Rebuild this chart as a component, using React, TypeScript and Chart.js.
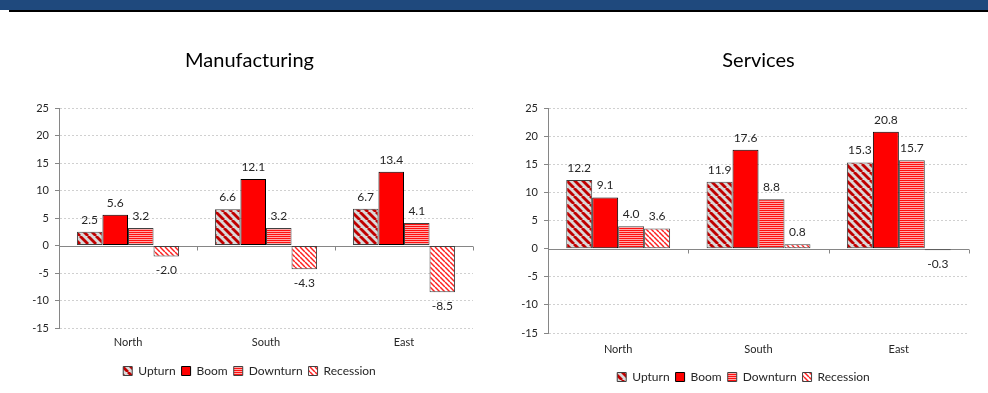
import React, { useEffect, useRef } from "react";
import { Chart, registerables } from "chart.js";

Chart.register(...registerables);

const regions = ["North", "South", "East"];
const seriesNames = ["Upturn", "Boom", "Downturn", "Recession"];

const manufUpturn = [2.5, 6.6, 6.7];
const manufBoom = [5.6, 12.1, 13.4];
const manufDownturn = [3.2, 3.2, 4.1];
const manufRecession = [-2.0, -4.3, -8.5];

const servUpturn = [12.2, 11.9, 15.3];
const servBoom = [9.1, 17.6, 20.8];
const servDownturn = [4.0, 8.8, 15.7];
const servRecession = [3.6, 0.8, -0.3];

const yMin = -15;
const yMax = 25;
const yStep = 5;

const FONT = "Lato";
const TEXT = "#262626";

function makePattern(kind: string): CanvasPattern | string {
  const c = document.createElement("canvas");
  const g = c.getContext("2d");
  if (!g) return "#f00";
  if (kind === "upturn") {
    const s = 8;
    c.width = s;
    c.height = s;
    g.fillStyle = "#D9D9D9";
    g.fillRect(0, 0, s, s);
    g.strokeStyle = "#C00000";
    g.lineWidth = 2.8;
    for (const off of [-s, 0, s]) {
      g.beginPath();
      g.moveTo(off, 0);
      g.lineTo(off + s, s);
      g.stroke();
    }
  } else if (kind === "recession") {
    const s = 5;
    c.width = s;
    c.height = s;
    g.fillStyle = "#FFFFFF";
    g.fillRect(0, 0, s, s);
    g.strokeStyle = "#FF2020";
    g.lineWidth = 1.5;
    for (const off of [-s, 0, s]) {
      g.beginPath();
      g.moveTo(off, 0);
      g.lineTo(off + s, s);
      g.stroke();
    }
  } else {
    c.width = 4;
    c.height = 2;
    g.fillStyle = "#FF1010";
    g.fillRect(0, 0, 4, 1);
    g.fillStyle = "#FFA8A8";
    g.fillRect(0, 1, 4, 1);
  }
  return g.createPattern(c, "repeat") || "#f00";
}

const valueLabels = {
  id: "valueLabels",
  afterDatasetsDraw(chart: any) {
    const ctx = chart.ctx;
    ctx.save();
    ctx.font = `12px ${FONT}`;
    ctx.fillStyle = TEXT;
    ctx.textAlign = "center";
    ctx.textBaseline = "middle";
    chart.data.datasets.forEach((ds: any, i: number) => {
      const meta = chart.getDatasetMeta(i);
      meta.data.forEach((bar: any, j: number) => {
        const v = ds.data[j] as number;
        const y = v >= 0 ? bar.y - 12 : bar.y + 14;
        ctx.fillText(v.toFixed(1), bar.x, y);
      });
    });
    ctx.restore();
  },
};

const zeroAxis = {
  id: "zeroAxis",
  beforeDatasetsDraw(chart: any) {
    const { ctx, chartArea } = chart;
    const y = Math.round(chart.scales.y.getPixelForValue(0)) + 0.5;
    const n = chart.data.labels.length;
    const w = (chartArea.right - chartArea.left) / n;
    ctx.save();
    ctx.strokeStyle = "#868686";
    ctx.lineWidth = 1;
    ctx.beginPath();
    ctx.moveTo(chartArea.left, y);
    ctx.lineTo(chartArea.right, y);
    for (let i = 1; i <= n; i++) {
      const px = Math.round(chartArea.left + i * w) + 0.5;
      ctx.moveTo(px, y);
      ctx.lineTo(px, y + 4);
    }
    ctx.stroke();
    ctx.restore();
  },
};

type Cfg = {
  title: string;
  data: number[][];
  width: number;
  height: number;
  padLeft: number;
  padRight: number;
  padBottom: number;
  yAxisWidth: number;
  titleFull: boolean;
  titlePadTop: number;
  titlePadBottom: number;
  xPad: number;
  xHeight: number;
};

function BarChart({ cfg }: { cfg: Cfg }) {
  const ref = useRef<HTMLCanvasElement | null>(null);
  useEffect(() => {
    if (!ref.current) return;
    const fills = [makePattern("upturn"), "#FF0000", makePattern("downturn"), makePattern("recession")];
    const borders = ["#404040", "#000000", "#404040", "#404040"];
    const chart = new Chart(ref.current, {
      type: "bar",
      data: {
        labels: regions,
        datasets: seriesNames.map((name, i) => ({
          label: name,
          data: cfg.data[i],
          backgroundColor: fills[i] as any,
          borderColor: borders[i],
          borderWidth: 1,
          borderSkipped: false,
          categoryPercentage: 0.74,
          barPercentage: 1,
        })),
      },
      options: {
        animation: false,
        responsive: false,
        maintainAspectRatio: false,
        events: [],
        layout: { padding: { left: cfg.padLeft, right: cfg.padRight, top: 0, bottom: cfg.padBottom } },
        plugins: {
          title: {
            display: true,
            text: cfg.title,
            color: "#000",
            fullSize: cfg.titleFull,
            font: { family: FONT, size: 20, weight: "normal" as any },
            padding: { top: cfg.titlePadTop, bottom: cfg.titlePadBottom },
          },
          legend: {
            position: "bottom",
            labels: {
              boxWidth: 9,
              boxHeight: 9,
              padding: 6,
              color: TEXT,
              font: { family: FONT, size: 12 },
            },
          },
          tooltip: { enabled: false },
        },
        scales: {
          x: {
            grid: { display: false, drawTicks: false },
            border: { display: false },
            ticks: { color: TEXT, font: { family: FONT, size: 11 }, padding: cfg.xPad },
            afterFit: (s: any) => {
              s.height = cfg.xHeight;
            },
          },
          y: {
            min: yMin,
            max: yMax,
            ticks: { stepSize: yStep, color: TEXT, font: { family: FONT, size: 11 }, padding: 6 },
            grid: {
              color: (c: any) => (c.tick && c.tick.value === 0 ? "rgba(0,0,0,0)" : "#D0D0D0"),
              tickColor: "#868686",
              tickLength: 4,
              tickBorderDash: [],
            },
            border: {
              display: true,
              color: "#868686",
              width: 1,
              dash: (c: any) => (c.tick ? [2, 2] : []),
            } as any,
            afterFit: (s: any) => {
              s.width = cfg.yAxisWidth;
            },
          },
        },
      },
      plugins: [zeroAxis, valueLabels],
    });
    return () => chart.destroy();
  }, []);
  return <canvas ref={ref} width={cfg.width} height={cfg.height} style={{ display: "block", width: cfg.width, height: cfg.height }} />;
}

const leftCfg: Cfg = {
  title: "Manufacturing",
  data: [manufUpturn, manufBoom, manufDownturn, manufRecession],
  width: 494,
  height: 381,
  padLeft: 26,
  padRight: 21,
  padBottom: 6,
  yAxisWidth: 33,
  titleFull: true,
  titlePadTop: 37,
  titlePadBottom: 35,
  xPad: 8,
  xHeight: 31,
};

const rightCfg: Cfg = {
  title: "Services",
  data: [servUpturn, servBoom, servDownturn, servRecession],
  width: 494,
  height: 381,
  padLeft: 24,
  padRight: 19,
  padBottom: 0,
  yAxisWidth: 30,
  titleFull: false,
  titlePadTop: 37,
  titlePadBottom: 35,
  xPad: 10,
  xHeight: 32,
};

export default function App() {
  return (
    <div style={{ position: "fixed", left: 0, top: 0, width: 988, height: 393, background: "#fff", overflow: "hidden" }}>
      <div style={{ position: "absolute", left: 0, top: 0, width: 988, height: 10, background: "#1F497D" }} />
      <div style={{ position: "absolute", left: 9, top: 10, width: 979, height: 2, background: "#000" }} />
      <div style={{ position: "absolute", left: 0, top: 12 }}>
        <BarChart cfg={leftCfg} />
      </div>
      <div style={{ position: "absolute", left: 494, top: 12 }}>
        <BarChart cfg={rightCfg} />
      </div>
    </div>
  );
}
